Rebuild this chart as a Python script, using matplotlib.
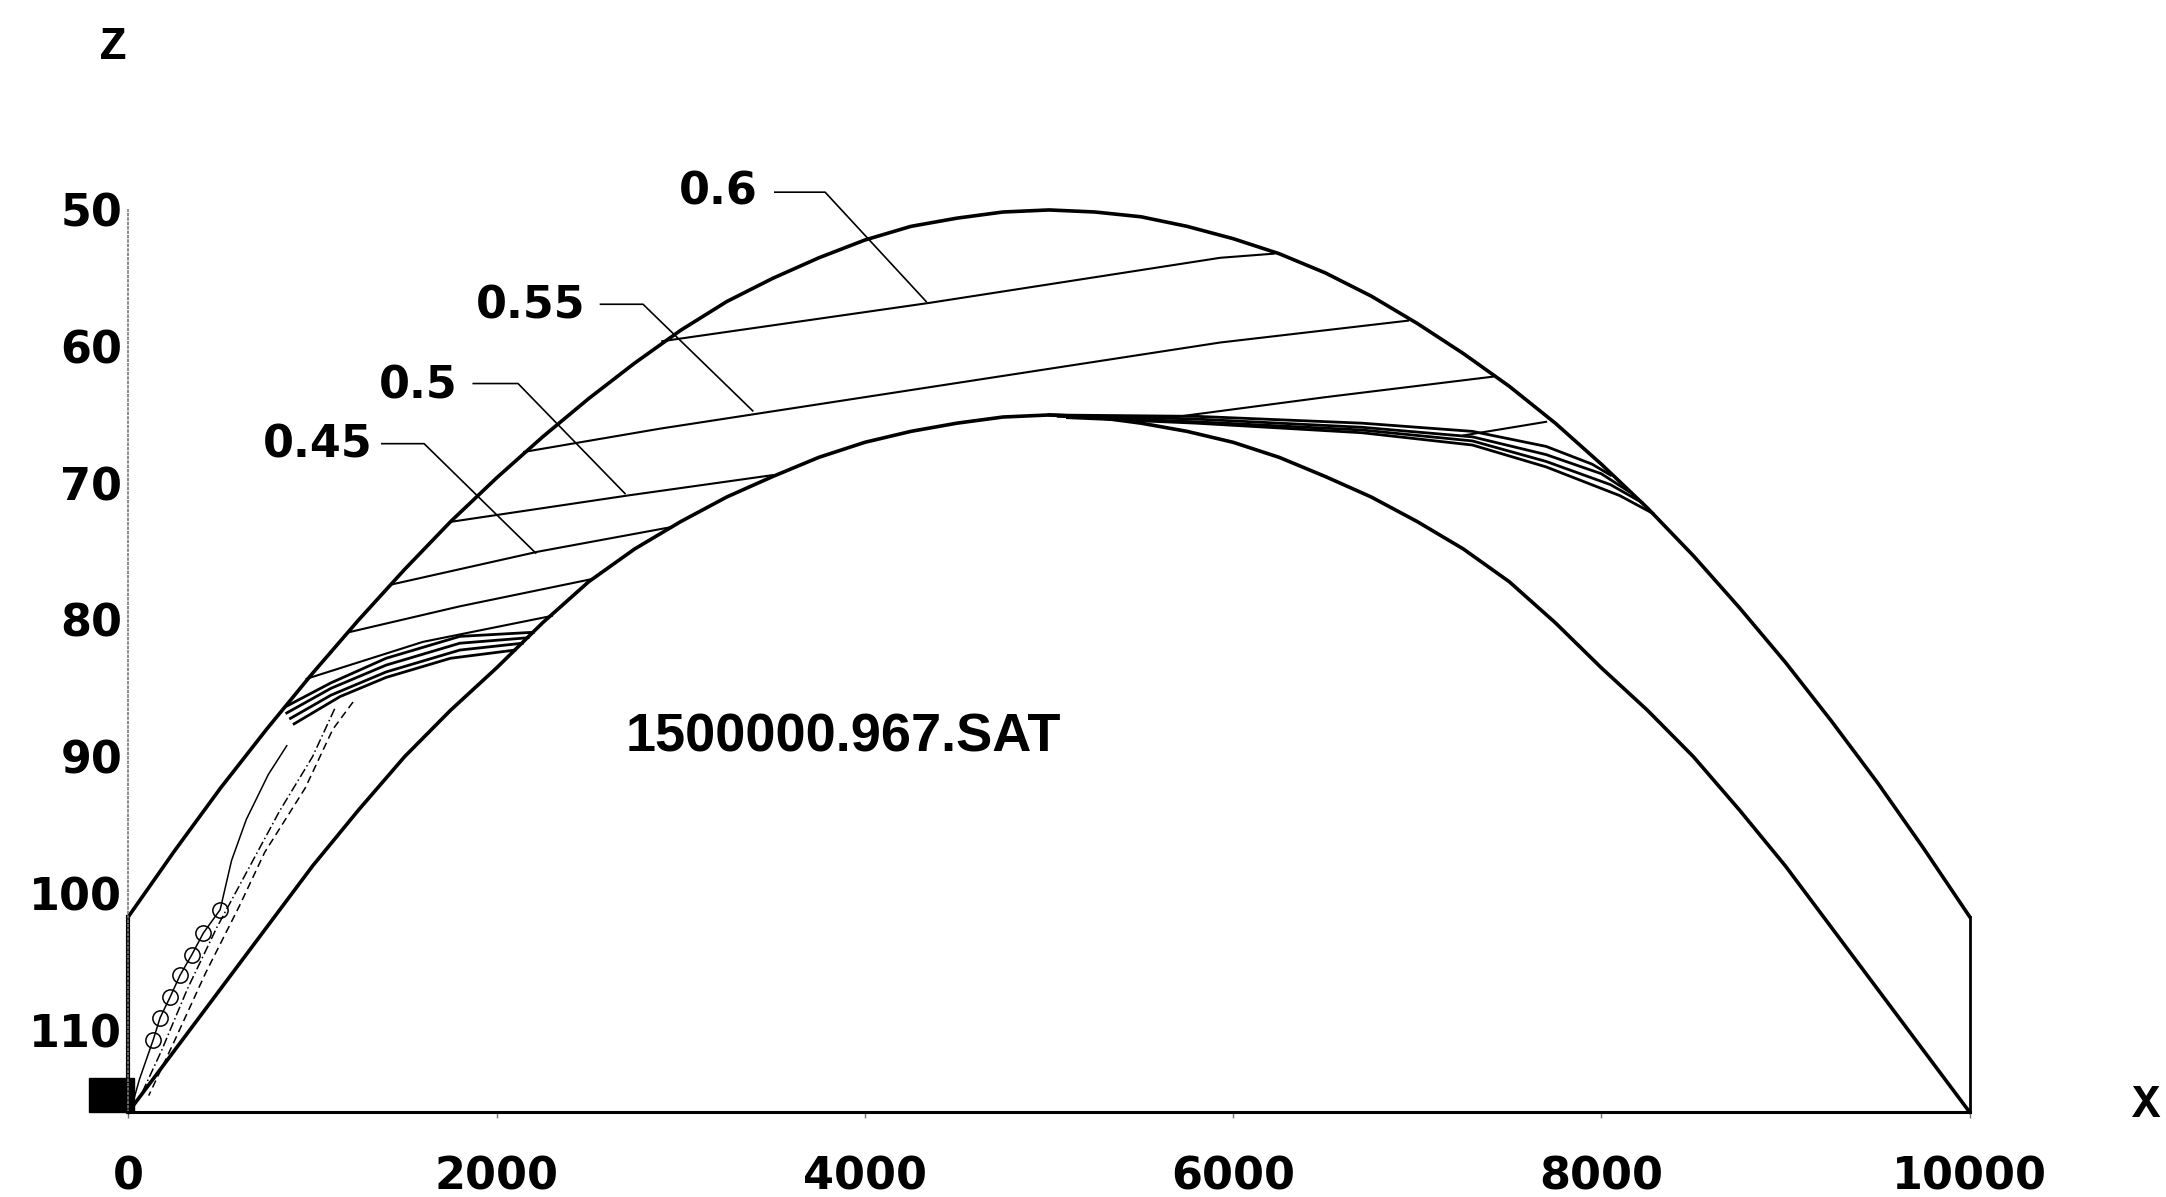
import matplotlib.pyplot as plt
from matplotlib.patches import Rectangle

# reservoir section: top and base surfaces (every 250 m)
grid_x = [0, 250, 500, 750, 1000, 1250, 1500, 1750, 2000, 2250, 2500,
          2750, 3000, 3250, 3500, 3750, 4000, 4250, 4500, 4750, 5000,
          5250, 5500, 5750, 6000, 6250, 6500, 6750, 7000, 7250, 7500,
          7750, 8000, 8250, 8500, 8750, 9000, 9250, 9500, 9750, 10000]
top_z = [101.7, 96.9, 92.3, 88.0, 83.9, 80.0, 76.3, 72.8, 69.6, 66.6, 63.8,
         61.2, 58.8, 56.7, 55.0, 53.5, 52.2, 51.2, 50.6, 50.15, 50.0,
         50.15, 50.5, 51.2, 52.1, 53.2, 54.6, 56.3, 58.3, 60.5, 62.9,
         65.6, 68.6, 71.8, 75.3, 79.1, 83.1, 87.4, 91.9, 96.7, 101.7]
base_z = [116.0, 111.5, 107.0, 102.5, 98.0, 93.9, 90.0, 86.6, 83.5, 80.2, 77.2,
          74.8, 72.8, 71.0, 69.5, 68.1, 67.0, 66.2, 65.6, 65.15, 65.0,
          65.15, 65.6, 66.2, 67.0, 68.1, 69.5, 71.0, 72.8, 74.8, 77.2,
          80.2, 83.5, 86.6, 90.0, 93.9, 98.0, 102.5, 107.0, 111.5, 116.0]

# labelled saturation contours
sat_060 = ([2900, 4350, 5930, 6220], [59.6, 56.8, 53.5, 53.2])
sat_055 = ([2150, 2888, 5929, 6950], [67.7, 66.0, 59.7, 58.1])
sat_050a = ([1760, 2708, 3500], [72.8, 70.9, 69.4])
sat_050b = ([5600, 6500, 7410], [65.3, 63.7, 62.2])
sat_045a = ([1430, 2225, 2950], [77.4, 75.0, 73.2])
sat_045b = ([7250, 7700], [66.5, 65.5])

# unlabelled contours in the left front
left_lines = [
    ([1196, 1800, 2520], [80.9, 79.0, 77.0]),
    ([968, 1600, 2300], [84.3, 81.6, 79.7]),
]
left_band = [
    ([860, 1100, 1400, 1800, 2200], [86.3, 84.6, 82.8, 81.2, 80.9]),
    ([860, 1100, 1400, 1800, 2170], [86.8, 85.0, 83.3, 81.7, 81.3]),
    ([880, 1100, 1400, 1800, 2140], [87.2, 85.5, 83.8, 82.2, 81.7]),
    ([900, 1150, 1400, 1750, 2100], [87.6, 85.6, 84.2, 82.8, 82.2]),
]
# thick front on the right flank
right_band = [
    ([5000, 5800, 6700, 7300, 7700, 7950, 8050], [65.0, 65.1, 65.6, 66.2, 67.3, 68.6, 69.4]),
    ([5000, 5800, 6700, 7300, 7700, 8000, 8150], [65.0, 65.3, 65.9, 66.6, 67.9, 69.3, 70.6]),
    ([5050, 5800, 6700, 7300, 7700, 8050, 8220], [65.1, 65.5, 66.1, 66.9, 68.4, 70.1, 71.4]),
    ([5100, 5800, 6700, 7300, 7700, 8100, 8280], [65.2, 65.6, 66.3, 67.2, 68.8, 70.9, 72.2]),
]

# flank contours near the left edge
flank_solid = ([860, 760, 640, 560, 498, 407, 344, 280, 226, 172, 135, 60, 20],
               [89.2, 91.3, 94.6, 97.6, 101.2, 102.9, 104.5, 106.0, 107.6, 109.1, 110.7, 113.6, 115.5])
loop_x = [498, 407, 344, 280, 226, 172, 135]
loop_z = [101.2, 102.9, 104.5, 106.0, 107.6, 109.1, 110.7]
flank_dash = ([1220, 1110, 960, 740, 600, 420, 250, 110],
              [86.0, 88.0, 92.3, 97.0, 101.0, 105.8, 110.8, 114.8])
flank_dashdot = ([1120, 1000, 820, 640, 480, 320, 180, 60],
                 [86.5, 90.0, 94.0, 98.5, 102.5, 107.0, 111.5, 115.0])

# labels: text, text anchor, leader polyline
labels = ["0.6", "0.55", "0.5", "0.45"]
label_pos = [(3420, 48.7), (2480, 57.0), (1788, 62.85), (1328, 67.2)]
leaders = [
    ([3511, 3784, 4333], [48.7, 48.7, 56.7]),
    ([2564, 2795, 3391], [56.9, 56.9, 64.7]),
    ([1873, 2116, 2697], [62.7, 62.7, 70.75]),
    ([1376, 1606, 2212], [67.1, 67.1, 75.1]),
]

x_ticks = [0, 2000, 4000, 6000, 8000, 10000]
z_ticks = [50, 60, 70, 80, 90, 100, 110]

fig = plt.figure(figsize=(21.66, 11.97), dpi=100)
ax = fig.add_axes([0.0593, 0.0710, 0.850, 0.7536])
ax.set_xlim(0, 10000)
ax.set_ylim(116, 50)

bold = dict(family="DejaVu Sans", weight="bold", size=32)

ax.plot(grid_x, top_z, color="black", lw=2.6, clip_on=False)
ax.plot(grid_x, base_z, color="black", lw=2.6, clip_on=False)
ax.plot([grid_x[0], grid_x[0]], [top_z[0], base_z[0]], color="black", lw=3.0, clip_on=False)
ax.plot([grid_x[-1], grid_x[-1]], [top_z[-1], base_z[-1]], color="black", lw=2.0, clip_on=False)

for xs, zs in [sat_060, sat_055, sat_050a, sat_050b, sat_045a, sat_045b] + left_lines:
    ax.plot(xs, zs, color="black", lw=1.5)
for xs, zs in left_band + right_band:
    ax.plot(xs, zs, color="black", lw=2.0)

ax.plot(*flank_solid, color="black", lw=1.1)
ax.plot(loop_x, loop_z, ls="none", marker="o", ms=11, mfc="none", mec="black", mew=1.1)
ax.plot(*flank_dash, color="black", lw=1.1, ls=(0, (5, 3)))
ax.plot(*flank_dashdot, color="black", lw=1.1, ls=(0, (6, 2, 1, 2)))

for txt, (tx, tz), (lx, lz) in zip(labels, label_pos, leaders):
    ax.text(tx, tz, txt, ha="right", va="center", clip_on=False, **bold)
    ax.plot(lx, lz, color="black", lw=1.2, clip_on=False)

ax.text(3884, 88.6, "1500000.967.SAT", ha="center", va="center",
        family="Liberation Sans", weight="bold", size=39)

# well marker at the lower left corner
ax.add_patch(Rectangle((-214, 113.5), 244, 2.5, color="black", clip_on=False))

for s in ["top", "right"]:
    ax.spines[s].set_visible(False)
ax.spines["bottom"].set_linewidth(2.2)
ax.spines["left"].set_linestyle(":")
ax.spines["left"].set_color("#777777")
ax.spines["left"].set_linewidth(1.2)

ax.set_xticks(x_ticks)
ax.set_yticks(z_ticks)
ax.set_xticklabels([str(v) for v in x_ticks], **bold)
ax.set_yticklabels([str(v) for v in z_ticks], **bold)
ax.tick_params(axis="x", length=4, width=1, color="#777777", pad=27)
ax.tick_params(axis="y", length=0, pad=4.5)

fig.text(113 / 2166, 1 - 47 / 1197, "Z", ha="center", va="center",
         family="Liberation Mono", weight="bold", size=34)
fig.text(2132 / 2166, 1 - 1105 / 1197, "X", ha="left", va="center",
         family="Liberation Mono", weight="bold", size=34)

fig.savefig("out.png", dpi=100, facecolor="white")
